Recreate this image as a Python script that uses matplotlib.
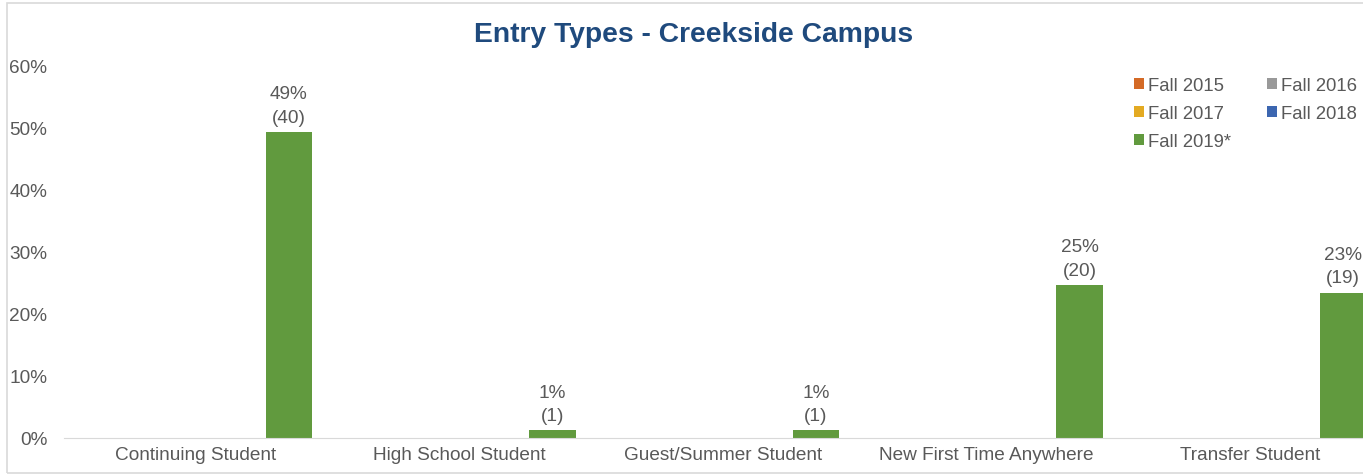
import matplotlib.pyplot as plt
import numpy as np
from matplotlib.patches import Rectangle

categories = ["Continuing Student", "High School Student", "Guest/Summer Student",
              "New First Time Anywhere", "Transfer Student"]
series = ["Fall 2015", "Fall 2016", "Fall 2017", "Fall 2018", "Fall 2019*"]
colors = ["#D46A26", "#999999", "#E3AA22", "#3C66B0", "#619A3E"]

# only Fall 2019 has data
counts = {
    "Fall 2015": [0, 0, 0, 0, 0],
    "Fall 2016": [0, 0, 0, 0, 0],
    "Fall 2017": [0, 0, 0, 0, 0],
    "Fall 2018": [0, 0, 0, 0, 0],
    "Fall 2019*": [40, 1, 1, 20, 19],
}
shares = {
    "Fall 2015": [0, 0, 0, 0, 0],
    "Fall 2016": [0, 0, 0, 0, 0],
    "Fall 2017": [0, 0, 0, 0, 0],
    "Fall 2018": [0, 0, 0, 0, 0],
    "Fall 2019*": [0.494, 0.0123, 0.0123, 0.247, 0.2346],
}

W, H = 1363, 477
fig = plt.figure(figsize=(W / 100, H / 100), dpi=100)
plt.rcParams["font.family"] = ["Liberation Sans", "DejaVu Sans"]

# outer chart border
fig.add_artist(Rectangle((7 / W, 3 / H), 1.2, (474 - 4) / H, transform=fig.transFigure,
                         fill=False, edgecolor="#D9D9D9", linewidth=1.2))

ax = fig.add_axes([64 / W, (H - 439) / H, 1318 / W, (439 - 67) / H])

x = np.arange(len(categories))
w = 0.1765
handles = {}
for i, s in enumerate(series):
    offs = (i - 2) * w
    bars = ax.bar(x + offs, shares[s], width=w, color=colors[i], label=s)
    handles[s] = bars
    if s == "Fall 2019*":
        for xi, v, c in zip(x + offs, shares[s], counts[s]):
            ax.text(xi, v + 0.01, f"{round(v * 100):.0f}%\n({c})", ha="center", va="bottom",
                    fontsize=13.7, color="#595959", linespacing=1.5)

ax.set_xlim(-0.5, len(categories) - 0.5)
ax.set_ylim(0, 0.6)
ax.set_xticks(x)
ax.set_xticklabels(categories, fontsize=13.7, color="#595959")
ax.set_yticks(np.arange(0, 0.61, 0.1))
ax.set_yticklabels([f"{int(round(t * 100))}%" for t in np.arange(0, 0.61, 0.1)],
                   fontsize=13.7, color="#595959")
ax.tick_params(axis="both", length=0)
ax.tick_params(axis="y", pad=12)
ax.tick_params(axis="x", pad=6)
for side in ["top", "right", "left"]:
    ax.spines[side].set_visible(False)
ax.spines["bottom"].set_color("#D9D9D9")
ax.spines["bottom"].set_clip_on(False)

fig.text(694 / W, 1 - 35 / H, "Entry Types - Creekside Campus", ha="center", va="center",
         fontsize=20.3, fontweight="bold", color="#1F4A7D")

# legend fills column-wise, so order it to read row-wise like the original
order = ["Fall 2015", "Fall 2017", "Fall 2019*", "Fall 2016", "Fall 2018"]
leg = fig.legend([handles[s] for s in order], order, ncol=2, loc="upper left",
                 bbox_to_anchor=(1117 / W, 1 - 61 / H), frameon=False,
                 fontsize=13.3, handlelength=0.55, handleheight=0.55,
                 handletextpad=0.25, columnspacing=1.9, labelspacing=0.6)
for t in leg.get_texts():
    t.set_color("#595959")

fig.savefig("out.png", dpi=100)
